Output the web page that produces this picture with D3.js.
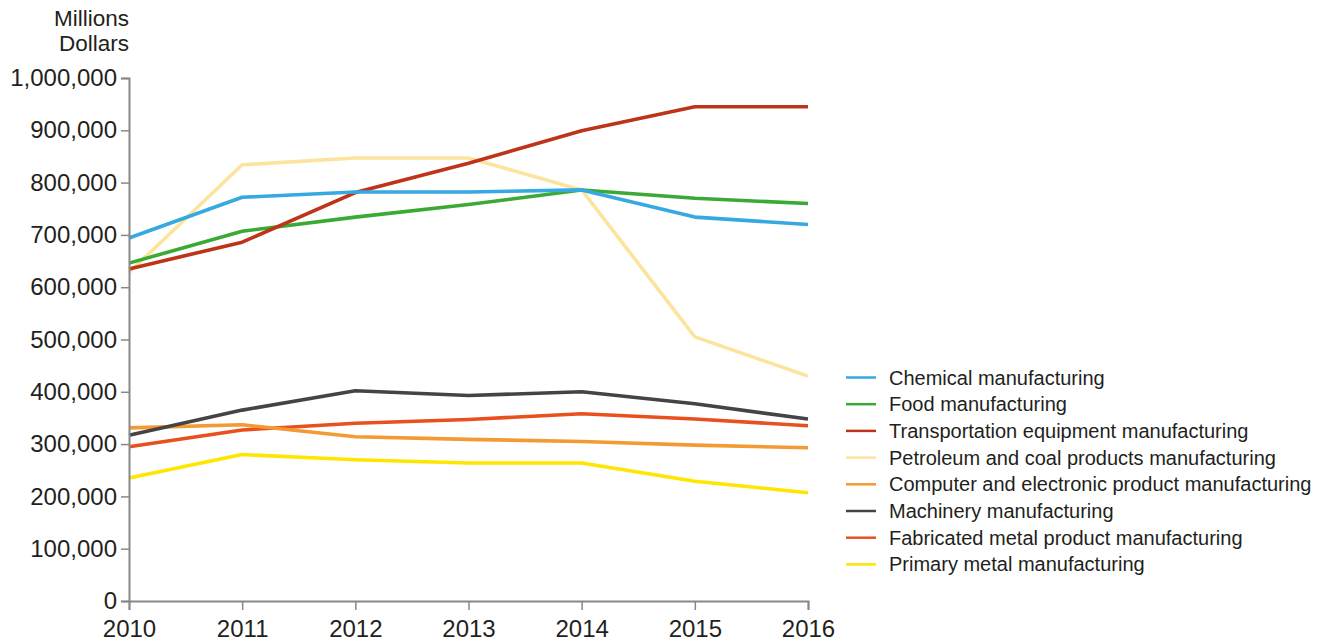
<!DOCTYPE html>
<html>
<head>
<meta charset="utf-8">
<script src="https://cdn.jsdelivr.net/npm/d3@7"></script>
<style>
  html, body { margin: 0; padding: 0; background: #fff; }
  svg { display: block; }
  text { font-family: "Liberation Sans", Arial, sans-serif; fill: #231f20; }
</style>
</head>
<body>
<svg id="chart" width="1318" height="640"></svg>
<script>
const years = [2010, 2011, 2012, 2013, 2014, 2015, 2016];
const seriesNames = [
  "Chemical manufacturing",
  "Food manufacturing",
  "Transportation equipment manufacturing",
  "Petroleum and coal products manufacturing",
  "Computer and electronic product manufacturing",
  "Machinery manufacturing",
  "Fabricated metal product manufacturing",
  "Primary metal manufacturing"
];
const chemical       = [694000, 772000, 782000, 782000, 786000, 734000, 720000];
const food           = [646000, 707000, 734000, 758000, 786000, 770000, 760000];
const transportation = [635000, 686000, 781000, 837000, 899000, 945000, 945000];
const petroleum      = [628000, 834000, 847000, 847000, 786000, 505000, 430000];
const computer       = [331000, 337000, 314000, 309000, 305000, 298000, 293000];
const machinery      = [317000, 365000, 402000, 393000, 400000, 377000, 348000];
const fabricated     = [295000, 327000, 340000, 347000, 358000, 348000, 335000];
const primary        = [235000, 280000, 270000, 264000, 264000, 229000, 207000];
const seriesValues = [chemical, food, transportation, petroleum, computer, machinery, fabricated, primary];
const colors = ["#36a9e1", "#3aaa35", "#be3419", "#fde49c", "#f39a33", "#444444", "#e8501d", "#ffe600"];
const yTicks = [0, 100000, 200000, 300000, 400000, 500000, 600000, 700000, 800000, 900000, 1000000];
const yTitle = ["Millions", "Dollars"];

const svg = d3.select("#chart");
const x = d3.scaleLinear().domain([2010, 2016]).range([129, 808]);
const y = d3.scaleLinear().domain([0, 1000000]).range([601, 78]);

// Lines (drawn so that top-listed series appear on top)
const line = d3.line().x((d, i) => x(years[i])).y(d => y(d));
const order = [3, 7, 6, 4, 5, 1, 2, 0];
svg.append("g").selectAll("path")
  .data(order)
  .join("path")
  .attr("d", i => line(seriesValues[i]))
  .attr("fill", "none")
  .attr("stroke", i => colors[i])
  .attr("stroke-width", 3.6)
  .attr("stroke-linejoin", "round");

// Y axis
const yAxis = svg.append("g")
  .attr("transform", "translate(129,0)")
  .call(d3.axisLeft(y).tickValues(yTicks).tickSize(8).tickPadding(4)
    .tickFormat(d3.format(",")));
yAxis.select(".domain").attr("stroke", "#888").attr("stroke-width", 2);
yAxis.selectAll(".tick line").attr("stroke", "#888").attr("stroke-width", 1.5);
yAxis.selectAll(".tick text")
  .attr("font-family", "Liberation Sans, Arial, sans-serif")
  .attr("font-size", 24).attr("fill", "#231f20");

// X axis
const xAxis = svg.append("g")
  .attr("transform", "translate(0,601)")
  .call(d3.axisBottom(x).tickValues(years).tickSize(9).tickPadding(10)
    .tickFormat(d3.format("d")));
xAxis.select(".domain").attr("stroke", "#888").attr("stroke-width", 2);
xAxis.selectAll(".tick line").attr("stroke", "#888").attr("stroke-width", 1.5);
xAxis.selectAll(".tick text")
  .attr("font-family", "Liberation Sans, Arial, sans-serif")
  .attr("font-size", 24).attr("fill", "#231f20");

// Y title
svg.append("g").selectAll("text")
  .data(yTitle)
  .join("text")
  .attr("x", 129)
  .attr("y", (d, i) => 26 + i * 25)
  .attr("text-anchor", "end")
  .attr("font-size", 22.5)
  .text(d => d);

// Legend
const legend = svg.append("g");
const rows = legend.selectAll("g")
  .data(seriesNames)
  .join("g")
  .attr("transform", (d, i) => `translate(846, ${377.5 + i * 26.7})`);
rows.append("line")
  .attr("x1", 0).attr("x2", 30)
  .attr("stroke", (d, i) => colors[i])
  .attr("stroke-width", 2.5);
rows.append("text")
  .attr("x", 43)
  .attr("dy", "0.35em")
  .attr("font-size", 20)
  .text(d => d);
</script>
</body>
</html>
